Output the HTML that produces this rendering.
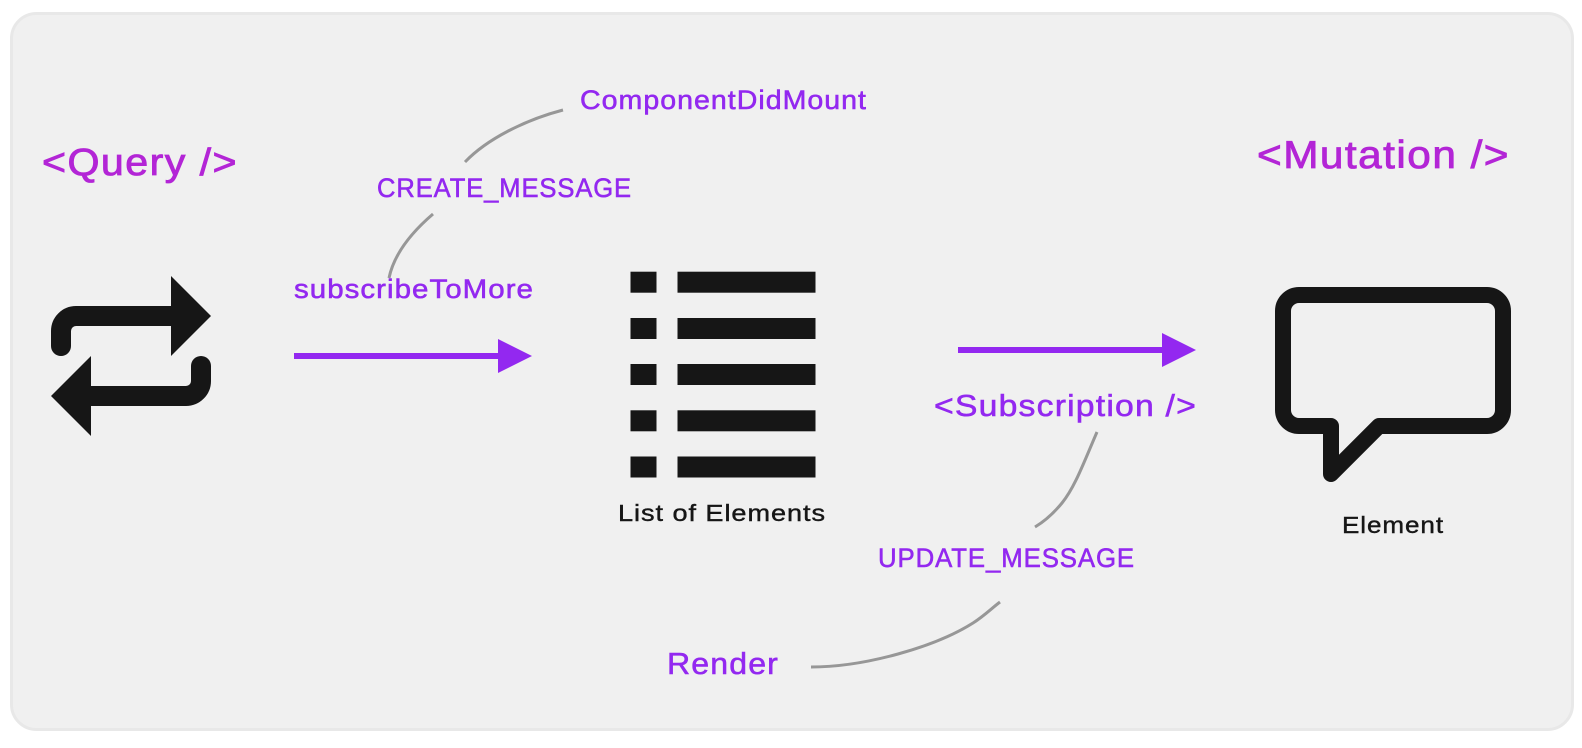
<!DOCTYPE html>
<html>
<head>
<meta charset="utf-8">
<style>
html,body{margin:0;padding:0;background:#fff;width:1582px;height:748px;overflow:hidden}
svg{display:block}
text{font-family:"Liberation Sans",sans-serif;paint-order:stroke;letter-spacing:.035em}
.p{fill:#9328f0;stroke:#9328f0;stroke-width:.55}
.m{fill:#b325d6;stroke:#b325d6;stroke-width:.85}
.k{fill:#161616;stroke:#161616;stroke-width:.4}
.g{fill:none;stroke:#979797;stroke-width:3}
</style>
</head>
<body>
<svg width="1582" height="748" viewBox="0 0 1582 748" xmlns="http://www.w3.org/2000/svg">
<rect x="11.5" y="13.5" width="1561" height="716" rx="25" fill="#f0f0f0" stroke="#e8e8e8" stroke-width="3"/>

<text class="m" x="42" y="175" font-size="38" textLength="196" lengthAdjust="spacingAndGlyphs">&lt;Query /&gt;</text>
<text class="m" x="1257" y="168" font-size="39" textLength="253" lengthAdjust="spacingAndGlyphs">&lt;Mutation /&gt;</text>

<text class="p" x="580" y="109" font-size="27" textLength="287" lengthAdjust="spacingAndGlyphs">ComponentDidMount</text>
<text class="p" x="377" y="197" font-size="26.5" textLength="255" lengthAdjust="spacingAndGlyphs">CREATE_MESSAGE</text>
<text class="p" x="294" y="298" font-size="26.5" textLength="240" lengthAdjust="spacingAndGlyphs">subscribeToMore</text>
<text class="p" x="934" y="416" font-size="31" textLength="263" lengthAdjust="spacingAndGlyphs">&lt;Subscription /&gt;</text>
<text class="p" x="878" y="567" font-size="26.5" textLength="257" lengthAdjust="spacingAndGlyphs">UPDATE_MESSAGE</text>
<text class="p" x="667" y="674" font-size="31" textLength="112" lengthAdjust="spacingAndGlyphs">Render</text>
<text class="k" x="618" y="521" font-size="23" textLength="208" lengthAdjust="spacingAndGlyphs">List of Elements</text>
<text class="k" x="1342" y="533" font-size="23" textLength="102" lengthAdjust="spacingAndGlyphs">Element</text>

<!-- connectors -->
<path class="g" d="M465 162C487 139 525 120 563 110"/>
<path class="g" d="M433 214C412 232 394 254 389 278"/>
<path class="g" d="M1097 432C1084 462 1075 487 1062 503C1053 514 1045 521 1035 527"/>
<path class="g" d="M1000 602C992 608 984 616 973 623C935 647 865 667 811 667"/>

<!-- arrows -->
<rect x="294" y="353" width="206" height="6" fill="#9328f0"/>
<polygon points="498,339 532,356 498,373" fill="#9328f0"/>
<rect x="958" y="347" width="206" height="6" fill="#9328f0"/>
<polygon points="1162,333 1196,350 1162,367" fill="#9328f0"/>

<!-- repeat icon -->
<path d="M61 346V331A15 15 0 0 1 76 316H175" fill="none" stroke="#161616" stroke-width="20" stroke-linecap="round"/>
<polygon points="171,276 211,316 171,356" fill="#161616"/>
<path d="M201 366V381A15 15 0 0 1 186 396H87" fill="none" stroke="#161616" stroke-width="20" stroke-linecap="round"/>
<polygon points="91,356 51,396 91,436" fill="#161616"/>

<!-- list icon -->
<g fill="#161616">
<rect x="630.5" y="271.7" width="26" height="21"/><rect x="677.5" y="271.7" width="138" height="21"/>
<rect x="630.5" y="318" width="26" height="21"/><rect x="677.5" y="318" width="138" height="21"/>
<rect x="630.5" y="364" width="26" height="21"/><rect x="677.5" y="364" width="138" height="21"/>
<rect x="630.5" y="410.3" width="26" height="21"/><rect x="677.5" y="410.3" width="138" height="21"/>
<rect x="630.5" y="456.5" width="26" height="21"/><rect x="677.5" y="456.5" width="138" height="21"/>
</g>

<!-- bubble icon -->
<path d="M1299 295H1487A16 16 0 0 1 1503 311V410A16 16 0 0 1 1487 426H1379L1331 474V426H1299A16 16 0 0 1 1283 410V311A16 16 0 0 1 1299 295Z" fill="none" stroke="#161616" stroke-width="16" stroke-linejoin="round"/>
</svg>
</body>
</html>
